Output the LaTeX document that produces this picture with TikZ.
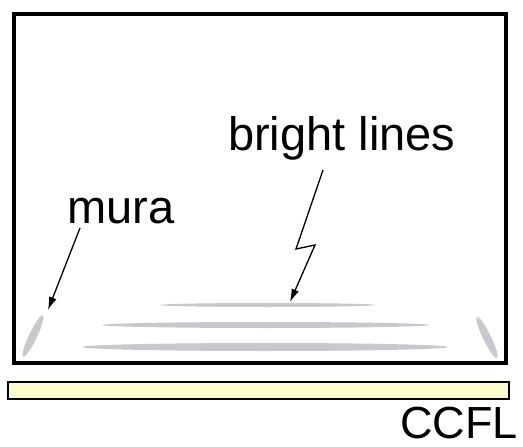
\documentclass[tikz,border=0pt]{standalone}
\usepackage{fontspec}
\setmainfont{Liberation Sans}
\usetikzlibrary{arrows.meta}
\definecolor{glow}{RGB}{200,200,205}
\definecolor{lampfill}{RGB}{253,252,205}
\tikzset{
  lbl/.style={inner sep=0pt, anchor=base west, font=\fontsize{47}{50}\selectfont},
  ptr/.style={line width=1.3pt, -{Latex[length=13pt,width=8pt]}},
  brightline/.style={fill=glow},
}
\begin{document}
\begin{tikzpicture}[x=1pt,y=-1pt]
\useasboundingbox (0,0) rectangle (523,447);
% panel
\draw[line width=3.5pt] (14,14) rectangle (506,363);
% lamp
\draw[line width=2.8pt, fill=lampfill] (8,382) rectangle (509,399);
% bright lines
\fill[brightline] (267.5,305) ellipse (107.5 and 2);
\fill[brightline] (265.5,325) ellipse (163.5 and 3);
\fill[brightline] (265,347) ellipse (183 and 4);
% mura
\fill[brightline, rotate around={64.5:(33,336)}] (33,336) ellipse (23 and 4);
\fill[brightline, rotate around={-64:(487,337.5)}] (487,337.5) ellipse (23 and 4);
% labels
\node[lbl] (mura) at (67,223) {mura};
\node[lbl] (bright) at (228,150) {bright lines};
\node[lbl, font=\fontsize{45}{50}\selectfont, text depth=0pt] (ccfl) at (400,438) {CCFL};
% pointers
\coordinate (muraStart) at (80,228);
\coordinate (muraTip) at (48,310);
\coordinate (brStart) at (323,170);
\coordinate (brTip) at (290,302);
\draw[ptr] (muraStart) -- (muraTip);
\draw[ptr] (brStart) -- (296,249) -- (315,245) -- (brTip);
\end{tikzpicture}
\end{document}
